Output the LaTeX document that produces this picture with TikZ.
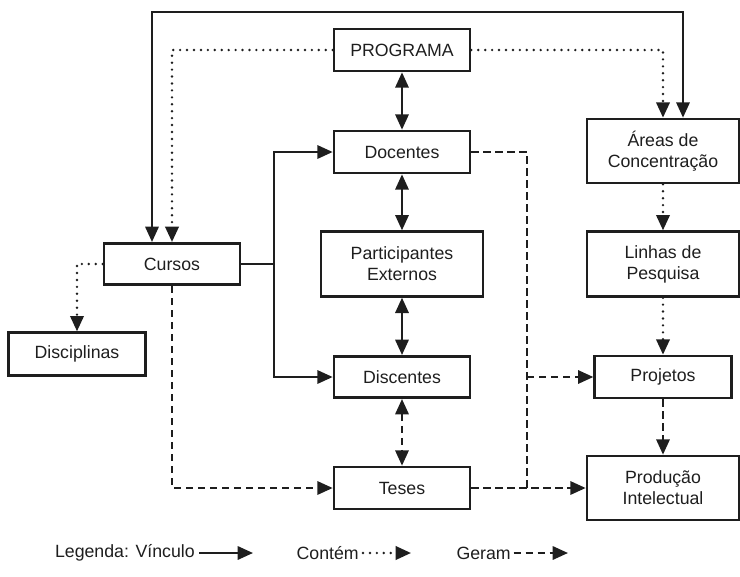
\documentclass[tikz,border=0pt]{standalone}
\usepackage{fontspec}
\setmainfont{Liberation Sans}
\usepackage{xcolor}
\definecolor{tinta}{RGB}{30,30,30}
\usepackage{tikz}
\usetikzlibrary{arrows.meta}

\begin{document}
\begin{tikzpicture}[x=0.75pt,y=-0.75pt,
  caixa/.style={draw=tinta,line width=2pt,text=tinta,align=center,
    inner sep=0pt,font=\fontsize{13.3}{15.8}\selectfont},
  vinc/.style={draw=tinta,line width=1.7pt},
  contem/.style={draw=tinta,line width=2pt,line cap=round,dash pattern=on 0pt off 5.2pt},
  geram/.style={draw=tinta,line width=1.7pt,dash pattern=on 5.5pt off 3.5pt},
  ponta/.style={-{Triangle[length=11.5pt,width=10pt]}},
  pontas/.style={{Triangle[length=11.5pt,width=10pt]}-{Triangle[length=11.5pt,width=10pt]}},
  legenda/.style={text=tinta,inner sep=0pt,font=\fontsize{13.3}{15.8}\selectfont}]
  \useasboundingbox (0,0) rectangle (740,576);

  % caixas
  \node[caixa,minimum width=102pt,minimum height=31.5pt] (prog) at (402,50) {PROGRAMA};
  \node[caixa,minimum width=102pt,minimum height=31.5pt] (doc) at (402,152) {Docentes};
  \node[caixa,minimum width=121.5pt,minimum height=48.5pt] (part) at (402,264) {Participantes\\Externos};
  \node[caixa,minimum width=102pt,minimum height=31pt] (disc) at (402,377) {Discentes};
  \node[caixa,minimum width=102pt,minimum height=31.5pt] (teses) at (402,488) {Teses};
  \node[caixa,minimum width=102pt,minimum height=31pt] (cursos) at (172,264) {Cursos};
  \node[caixa,minimum width=102.5pt,minimum height=32pt] (discip) at (77,354) {Disciplinas};
  \node[caixa,minimum width=114pt,minimum height=48pt] (areas) at (663,151) {Áreas de\\Concentração};
  \node[caixa,minimum width=114pt,minimum height=48.5pt] (linhas) at (663,264) {Linhas de\\Pesquisa};
  \node[caixa,minimum width=102.5pt,minimum height=31.5pt] (proj) at (663,377) {Projetos};
  \node[caixa,minimum width=114pt,minimum height=48pt] (prod) at (663,488) {Produção\\Intelectual};

  \coordinate (topoE) at (152,12);
  \coordinate (topoD) at (683,12);
  \coordinate (cj) at (274,264);
  \coordinate (dj) at (527,488);

  % vinculo
  \path[vinc,pontas] (cursos.north -| topoE) -- (topoE) -- (topoD) -- (areas.north -| topoD);
  \path[vinc,pontas] (prog) -- (doc);
  \path[vinc,pontas] (doc) -- (part);
  \path[vinc,pontas] (part) -- (disc);
  \path[vinc] (cursos.east) -- (cj);
  \path[vinc,ponta] (cj) |- (doc.west);
  \path[vinc,ponta] (cj) |- (disc.west);

  % contem
  \path[contem,ponta] (prog.west) -| (cursos.north);
  \path[contem,ponta] (prog.east) -| (areas.north);
  \path[contem,ponta] (cursos.west) -| (discip.north);
  \path[contem,ponta] (areas) -- (linhas);
  \path[contem,ponta] (linhas) -- (proj);

  % geram
  \path[geram,pontas] (disc) -- (teses);
  \path[geram,ponta] (cursos.south) |- (teses.west);
  \path[geram] (doc.east) -| (dj);
  \path[geram,ponta] (dj |- proj.west) -- (proj.west);
  \path[geram,ponta] (teses.east) -- (prod.west);
  \path[geram,ponta] (proj) -- (prod);

  % legenda
  \node[legenda,anchor=east] (lvinc) at (195,553) {Legenda: Vínculo};
  \node[legenda,anchor=east] (lcont) at (359,553) {Contém};
  \node[legenda,anchor=east] (lger) at (511,553) {Geram};
  \coordinate (fvinc) at (253,553);
  \coordinate (fcont) at (411,553);
  \coordinate (fger) at (568,553);
  \path[vinc,ponta] ([xshift=3pt]lvinc.east) -- (fvinc);
  \path[contem,ponta] ([xshift=3pt]lcont.east) -- (fcont);
  \path[geram,ponta] ([xshift=2pt]lger.east) -- (fger);
\end{tikzpicture}
\end{document}
